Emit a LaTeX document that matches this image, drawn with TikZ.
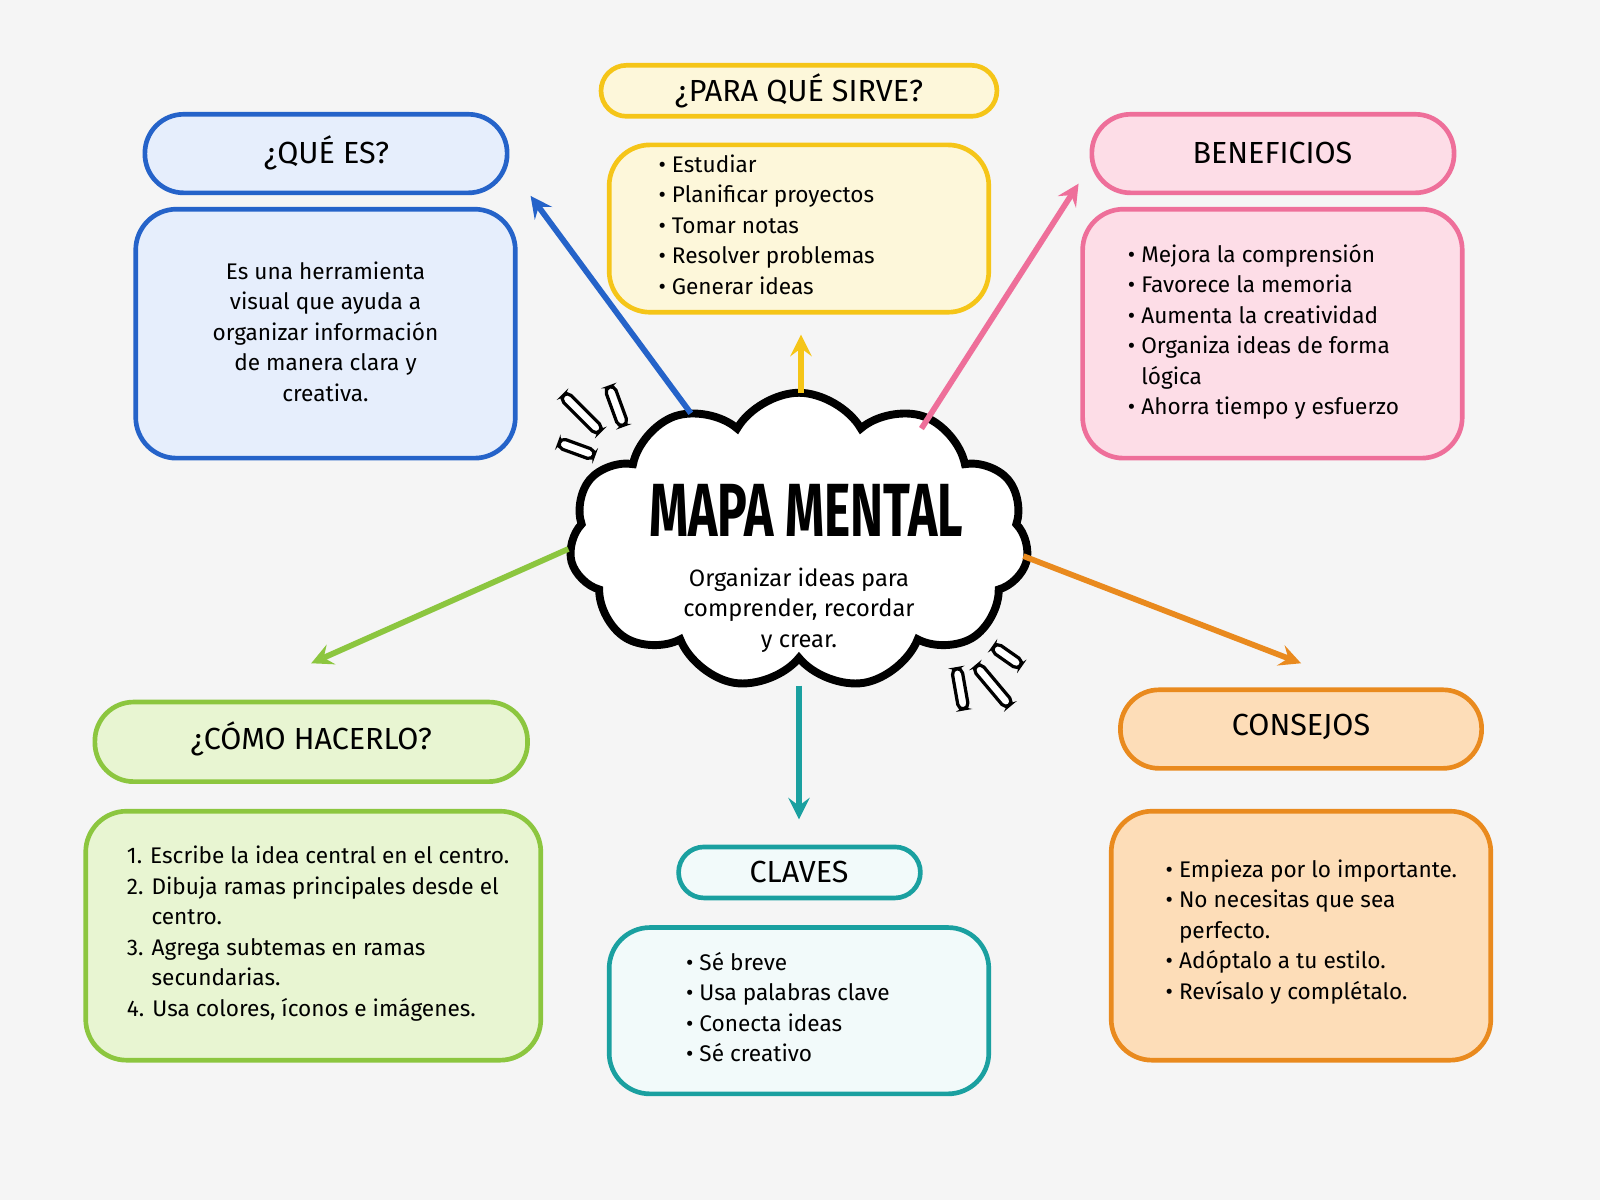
\documentclass[tikz,border=0pt]{standalone}
\usepackage{fontspec}
\setmainfont{Fira Sans}
\usetikzlibrary{shapes.symbols}
\definecolor{bg}{HTML}{F5F5F5}
\definecolor{cblue}{HTML}{2563C9}\definecolor{fblue}{HTML}{E6EEFC}
\definecolor{cyel}{HTML}{F5C518}\definecolor{fyel}{HTML}{FDF7DA}
\definecolor{cpink}{HTML}{EE6F9A}\definecolor{fpink}{HTML}{FDDDE7}
\definecolor{cgreen}{HTML}{8CC63F}\definecolor{fgreen}{HTML}{E8F5D2}
\definecolor{cteal}{HTML}{1AA0A0}\definecolor{fteal}{HTML}{F2FAFA}
\definecolor{corange}{HTML}{E98A1E}\definecolor{forange}{HTML}{FDDDB8}
\begin{document}
\begin{tikzpicture}[x=0.01cm,y=-0.01cm,
  title/.style={font=\fontsize{8.5}{10}\selectfont},
  body/.style={font=\fontsize{6.3}{8.5}\selectfont,align=left},
  branch/.style={line width=1.6pt,->,>=stealth},
  bar/.style={draw=black,fill=white,line width=0.9pt,rounded corners=1.5pt}]
\useasboundingbox[fill=bg] (0,0) rectangle (1568,1176);
% titles
\draw[cblue,fill=fblue,line width=1.3pt,rounded corners=0.38cm] (142,112) rectangle (497,189);
\node[title] (quet) at (320,150) {¿QUÉ ES?};
\draw[cyel,fill=fyel,line width=1.3pt,rounded corners=0.25cm] (589,64) rectangle (977,114);
\node[title] (parat) at (783,89) {¿PARA QUÉ SIRVE?};
\draw[cpink,fill=fpink,line width=1.3pt,rounded corners=0.38cm] (1070,112) rectangle (1425,189);
\node[title] (bent) at (1247,150) {BENEFICIOS};
\draw[cgreen,fill=fgreen,line width=1.3pt,rounded corners=0.38cm] (93,688) rectangle (517,766);
\node[title] (comot) at (305,724) {¿CÓMO HACERLO?};
\draw[cteal,fill=fteal,line width=1.3pt,rounded corners=0.25cm] (665,830) rectangle (902,880);
\node[title] (clavt) at (783,855) {CLAVES};
\draw[corange,fill=forange,line width=1.3pt,rounded corners=0.38cm] (1098,676) rectangle (1452,753);
\node[title] (const) at (1275,712) {CONSEJOS};
% bodies
\draw[cblue,fill=fblue,line width=1.3pt,rounded corners=0.4cm] (133,205) rectangle (505,449);
\node[body,align=center] (queb) at (319,325) {Es una herramienta\\visual que ayuda a\\organizar información\\de manera clara y\\creativa.};
\draw[cyel,fill=fyel,line width=1.3pt,rounded corners=0.4cm] (597,142) rectangle (969,306);
\node[body,anchor=west] (parab) at (633,220) {• Estudiar\\• Planificar proyectos\\• Tomar notas\\• Resolver problemas\\• Generar ideas};
\draw[cpink,fill=fpink,line width=1.3pt,rounded corners=0.4cm] (1061,205) rectangle (1433,449);
\node[body,anchor=west] (benb) at (1093,325) {• Mejora la comprensión\\• Favorece la memoria\\• Aumenta la creatividad\\• Organiza ideas de forma\\\phantom{• }lógica\\• Ahorra tiempo y esfuerzo};
\draw[cgreen,fill=fgreen,line width=1.3pt,rounded corners=0.4cm] (84,795) rectangle (530,1039);
\node[body,anchor=west] (comob) at (112,915) {1. Escribe la idea central en el centro.\\2. Dibuja ramas principales desde el\\\phantom{2. }centro.\\3. Agrega subtemas en ramas\\\phantom{3. }secundarias.\\4. Usa colores, íconos e imágenes.};
\draw[cteal,fill=fteal,line width=1.3pt,rounded corners=0.4cm] (597,909) rectangle (969,1072);
\node[body,anchor=west] (clavb) at (660,987) {• Sé breve\\• Usa palabras clave\\• Conecta ideas\\• Sé creativo};
\draw[corange,fill=forange,line width=1.3pt,rounded corners=0.4cm] (1089,795) rectangle (1461,1039);
\node[body,anchor=west] (consb) at (1130,913) {• Empieza por lo importante.\\• No necesitas que sea\\\phantom{• }perfecto.\\• Adóptalo a tu estilo.\\• Revísalo y complétalo.};
% central cloud
\node[cloud,cloud puffs=11,cloud puff arc=120,aspect=1.6,draw=black,fill=white,line width=2.2pt,
  minimum width=4.5cm,minimum height=2.9cm] (map) at (783,530) {};
\node[font=\fontsize{21}{24}\selectfont\bfseries] (mapt) at (790,500) {\scalebox{0.66}[1]{MAPA MENTAL}};
\node[body,align=center,font=\fontsize{6.6}{8.6}\selectfont] (maps) at (783,598) {Organizar ideas para\\comprender, recordar\\y crear.};
% arrow ends
\coordinate (aq) at (677,405); \coordinate (eq) at (520,192);
\coordinate (ap) at (785,385); \coordinate (ep) at (785,328);
\coordinate (ab) at (903,420); \coordinate (eb) at (1057,180);
\coordinate (ac) at (557,538); \coordinate (ec) at (305,650);
\coordinate (ao) at (1003,545); \coordinate (eo) at (1275,650);
\coordinate (at) at (783,672); \coordinate (et) at (783,803);
\draw[branch,cblue] (aq) -- (eq);
\draw[branch,cyel] (ap) -- (ep);
\draw[branch,cpink] (ab) -- (eb);
\draw[branch,cgreen] (ac) -- (ec);
\draw[branch,corange] (ao) -- (eo);
\draw[branch,cteal] (at) -- (et);
% accent strokes
\draw[bar,rotate around={-45:(570,405)}] (545,400) rectangle (595,410);
\draw[bar,rotate around={-70:(604,398)}] (584,393) rectangle (624,403);
\draw[bar,rotate around={-20:(565,440)}] (547,435) rectangle (583,445);
\draw[bar,rotate around={-50:(973,672)}] (948,667) rectangle (998,677);
\draw[bar,rotate around={-80:(941,675)}] (921,670) rectangle (961,680);
\draw[bar,rotate around={-35:(987,643)}] (971,638) rectangle (1003,648);
\end{tikzpicture}
\end{document}
